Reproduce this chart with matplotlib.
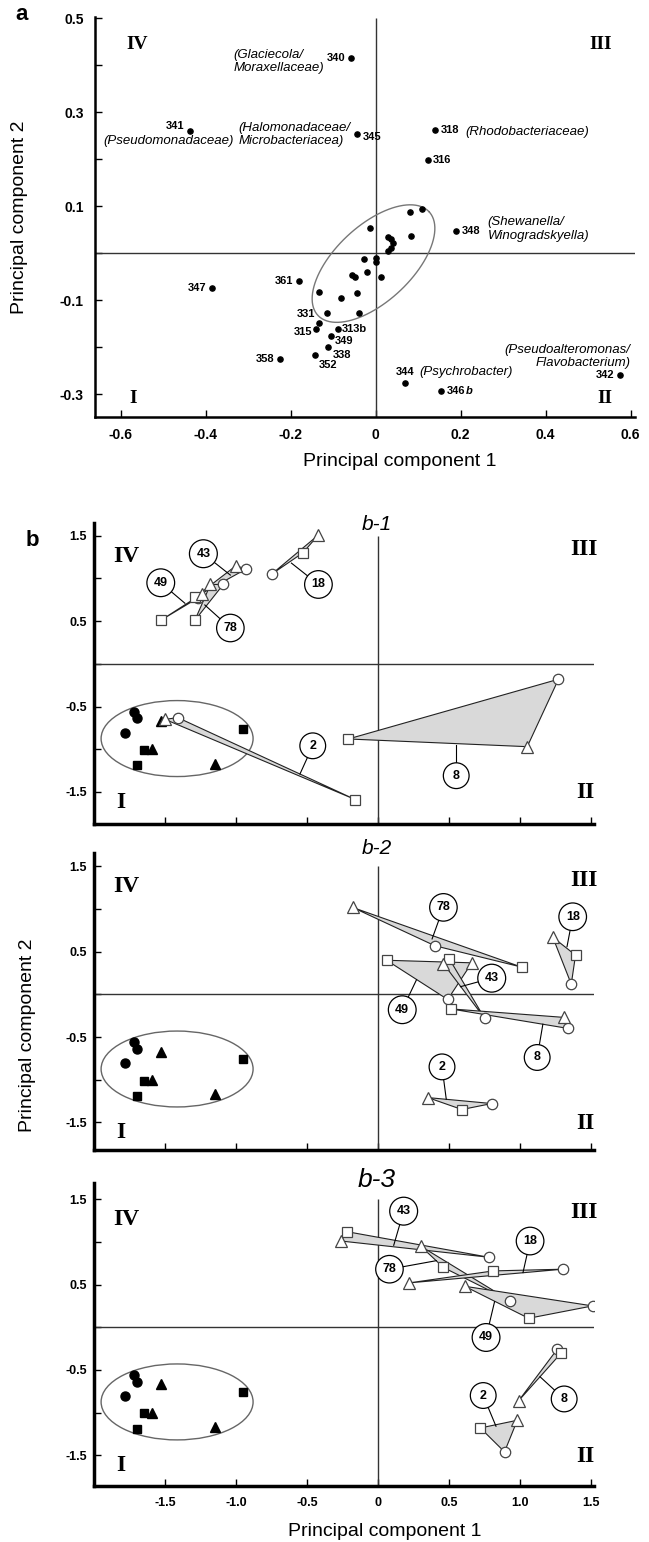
import numpy as np
import matplotlib
matplotlib.use("Agg")
import matplotlib.pyplot as plt
from matplotlib.patches import Polygon, Ellipse

plt.rcParams['font.family'] = ['Liberation Sans', 'DejaVu Sans']

# ---------------- panel a : isolates on PC1 / PC2 ----------------
a_ids = ['340', '341', '345', '318', '316', '348', '361', '347', '331', '315',
         '313b', '349', '338', '352', '358', '344', '342', '346']
a_x = [-0.058, -0.437, -0.043, 0.139, 0.124, 0.190, -0.181, -0.386, -0.133, -0.140,
       -0.089, -0.105, -0.113, -0.143, -0.224, 0.069, 0.574, 0.154]
a_y = [0.415, 0.261, 0.253, 0.262, 0.199, 0.047, -0.059, -0.073, -0.148, -0.161,
       -0.161, -0.176, -0.199, -0.217, -0.226, -0.277, -0.260, -0.293]

# unlabelled isolates inside the ellipse
a_cl_x = [0.080, 0.108, -0.013, 0.083, 0.030, 0.037, 0.041, 0.036, 0.028, -0.028, 0.0,
          0.0, -0.020, -0.055, -0.049, 0.012, -0.133, -0.081, -0.043, -0.114, -0.038]
a_cl_y = [0.088, 0.095, 0.053, 0.037, 0.035, 0.030, 0.022, 0.012, 0.004, -0.013, -0.011,
          -0.019, -0.039, -0.047, -0.050, -0.050, -0.083, -0.095, -0.085, -0.127, -0.128]

a_taxa = ['(Glaciecola/\nMoraxellaceae)', '(Pseudomonadaceae)',
          '(Halomonadaceae/\nMicrobacteriacea)', '(Rhodobacteriaceae)',
          '(Shewanella/\nWinogradskyella)', '(Psychrobacter)',
          '(Pseudoalteromonas/\nFlavobacterium)']

# ---------------- panel b : groups (circle / square / triangle) ----------------
b1_lab = ['43', '49', '78', '18', '2', '8']
b1_cx = [-0.93, -1.27, -1.09, -0.75, -1.41, 1.27]
b1_cy = [1.11, 0.77, 0.93, 1.05, -0.63, -0.18]
b1_sx = [-1.29, -1.53, -1.29, -0.53, -0.16, -0.21]
b1_sy = [0.78, 0.51, 0.51, 1.30, -1.59, -0.88]
b1_tx = [-1.00, -1.24, -1.18, -0.42, -1.50, 1.05]
b1_ty = [1.15, 0.82, 0.93, 1.51, -0.65, -0.97]

b2_lab = ['78', '18', '49', '43', '8', '2']
b2_cx = [0.40, 1.36, 0.49, 0.75, 1.34, 0.80]
b2_cy = [0.57, 0.12, -0.06, -0.28, -0.40, -1.28]
b2_sx = [1.01, 1.39, 0.06, 0.50, 0.51, 0.59]
b2_sy = [0.32, 0.46, 0.40, 0.42, -0.17, -1.35]
b2_tx = [-0.18, 1.23, 0.66, 0.46, 1.31, 0.35]
b2_ty = [1.02, 0.67, 0.37, 0.36, -0.27, -1.21]

b3_lab = ['43', '78', '18', '49', '8', '2']
b3_cx = [0.78, 0.93, 1.30, 1.51, 1.26, 0.89]
b3_cy = [0.82, 0.31, 0.68, 0.25, -0.26, -1.46]
b3_sx = [-0.22, 0.46, 0.81, 1.06, 1.29, 0.72]
b3_sy = [1.12, 0.70, 0.66, 0.105, -0.30, -1.18]
b3_tx = [-0.26, 0.30, 0.22, 0.61, 0.99, 0.98]
b3_ty = [1.01, 0.95, 0.52, 0.48, -0.86, -1.09]

# reference strains (filled symbols, same in every sub-panel)
ref_cx = [-1.72, -1.70, -1.78]
ref_cy = [-0.56, -0.64, -0.81]
ref_tx = [-1.53, -1.59, -1.15]
ref_ty = [-0.67, -1.00, -1.17]
ref_sx = [-1.65, -1.70, -0.95]
ref_sy = [-1.01, -1.19, -0.76]

# label bubble positions and where their leader lines touch the group
b1_lpos = [(-1.23, 1.29), (-1.53, 0.95), (-1.04, 0.42), (-0.42, 0.93), (-0.46, -0.96), (0.55, -1.31)]
b1_anc = [(-1.04, 1.04), (-1.36, 0.71), (-1.22, 0.69), (-0.61, 1.18), (-0.55, -1.29), (0.55, -0.95)]
b2_lpos = [(0.46, 1.02), (1.37, 0.91), (0.17, -0.18), (0.80, 0.19), (1.12, -0.74), (0.45, -0.85)]
b2_anc = [(0.38, 0.65), (1.33, 0.56), (0.27, 0.17), (0.58, 0.09), (1.16, -0.35), (0.48, -1.23)]
b3_lpos = [(0.18, 1.36), (0.08, 0.68), (1.07, 1.01), (0.76, -0.12), (1.31, -0.84), (0.74, -0.80)]
b3_anc = [(0.11, 0.96), (0.41, 0.78), (1.02, 0.64), (0.82, 0.30), (1.14, -0.58), (0.83, -1.16)]

W, H = 649, 1542
fig = plt.figure(figsize=(W / 100, H / 100), dpi=100)


def px_axes(left, top, right, bottom):
    return fig.add_axes([left / W, 1 - bottom / H, (right - left) / W, (bottom - top) / H])


def roman(ax, txt, x, y, size):
    ax.text(x, y, txt, family='Liberation Serif', weight='bold', fontsize=size,
            ha='center', va='center')


# ================= panel a =================
ax = px_axes(95, 17, 635, 416.7)
ax.set_xlim(-0.66, 0.61)
ax.set_ylim(-0.348, 0.503)
for s in ['top', 'right']:
    ax.spines[s].set_visible(False)
for s in ['left', 'bottom']:
    ax.spines[s].set_linewidth(1.8)
ax.axhline(0, color='#333333', lw=1)
ax.vlines(0, -0.348, 0.5, color='#333333', lw=1)
ax.set_xticks(np.arange(-0.6, 0.61, 0.2))
ax.set_xticklabels(['-0.6', '-0.4', '-0.2', '0', '0.2', '0.4', '0.6'])
ax.set_yticks([0.5, 0.3, 0.1, -0.1, -0.3])
ax.set_yticklabels(['0.5', '0.3', '0.1', '-0.1', '-0.3'])
ax.set_yticks([0.4, 0.2, 0.0, -0.2], minor=True)
ax.tick_params(direction='in', length=5, width=1, labelsize=10, pad=8)
ax.tick_params(which='minor', direction='in', length=5, width=1)
for t in ax.get_xticklabels() + ax.get_yticklabels():
    t.set_fontweight('bold')

ax.scatter(a_cl_x, a_cl_y, s=14, color='black', zorder=3)
ax.scatter(a_x, a_y, s=14, color='black', zorder=3)

# ellipse round the main group (drawn in pixel space, angled)
t = np.linspace(0, 2 * np.pi, 200)
ea, eb, th = 76, 38, np.deg2rad(43)
ex = -0.005 + (ea * np.cos(t) * np.cos(th) - eb * np.sin(t) * np.sin(th)) / 425
ey = -0.022 + (ea * np.cos(t) * np.sin(th) + eb * np.sin(t) * np.cos(th)) / 470
ax.plot(ex, ey, color='#777777', lw=1)

a_off = {'340': (-4, 0, 'right'), '341': (-4, 3, 'right'), '345': (4, -2, 'left'),
         '318': (4, 0, 'left'), '316': (3, 0, 'left'), '348': (4, 0, 'left'),
         '361': (-4, 0, 'right'), '347': (-4, 0, 'right'), '331': (-3, 6, 'right'),
         '315': (-3, -2, 'right'), '313b': (3, 0, 'left'), '349': (3, -4, 'left'),
         '338': (4, -6, 'left'), '352': (3, -7, 'left'), '358': (-4, 0, 'right'),
         '344': (0, 8, 'center'), '342': (-4, 0, 'right'), '346': (4, 0, 'left')}
for lab, x, y in zip(a_ids, a_x, a_y):
    dx, dy, ha = a_off[lab]
    ax.annotate(lab, (x, y), xytext=(dx, dy), textcoords='offset points', ha=ha,
                va='center', fontsize=8, fontweight='bold')
    if lab == '346':
        ax.annotate('b', (x, y), xytext=(dx + 14, dy), textcoords='offset points',
                    ha='left', va='center', fontsize=8, fontweight='bold', style='italic')

tax_pos = [(-0.335, 0.408, 'left'), (-0.333, 0.238, 'right'), (-0.322, 0.2525, 'left'),
           (0.21, 0.259, 'left'), (0.263, 0.052, 'left'), (0.104, -0.253, 'left'),
           (0.60, -0.2195, 'right')]
for txt, (x, y, ha) in zip(a_taxa, tax_pos):
    ax.text(x, y, txt, ha=ha, va='center', multialignment=ha, fontsize=9.5,
            style='italic', linespacing=1.15)

roman(ax, 'IV', -0.56, 0.445, 14)
roman(ax, 'III', 0.53, 0.445, 14)
roman(ax, 'I', -0.57, -0.31, 14)
roman(ax, 'II', 0.54, -0.31, 14)

fig.text(22 / W, 1 - 15 / H, 'a', fontsize=16, fontweight='bold', ha='center', va='center')
fig.text(20 / W, 1 - 217 / H, 'Principal component 2', rotation=90, fontsize=14,
         ha='center', va='center')
fig.text(400 / W, 1 - 462 / H, 'Principal component 1', fontsize=14, ha='center', va='center')


# ================= panel b =================
def draw_b(ax, ylim, lab, cx, cy, sx, sy, tx, ty, lpos, anc, show_x):
    ax.set_xlim(-2.0, 1.52)
    ax.set_ylim(*ylim)
    for s in ['top', 'right']:
        ax.spines[s].set_visible(False)
    for s in ['left', 'bottom']:
        ax.spines[s].set_linewidth(2.5)
    ax.axhline(0, color='#333333', lw=1)
    ax.vlines(0, ylim[0], 1.5, color='#333333', lw=1)
    ax.set_xticks(np.arange(-1.5, 1.51, 0.5))
    ax.set_yticks([1.5, 0.5, -0.5, -1.5])
    ax.set_yticklabels(['1.5', '0.5', '-0.5', '-1.5'])
    ax.set_yticks([1.0, 0.0, -1.0], minor=True)
    ax.tick_params(direction='in', length=5, width=1, labelsize=9, pad=5)
    ax.tick_params(which='minor', direction='in', length=5, width=1)
    if show_x:
        ax.set_xticklabels(['-1.5', '-1.0', '-0.5', '0', '0.5', '1.0', '1.5'])
        ax.tick_params(axis='x', pad=8)
    else:
        ax.set_xticklabels([])
    for t in ax.get_xticklabels() + ax.get_yticklabels():
        t.set_fontweight('bold')

    # reference strains
    ax.add_patch(Ellipse((-1.415, -0.875), 1.07, 0.89, fc='none', ec='#666666', lw=1))
    ax.plot(ref_cx, ref_cy, 'o', color='black', ms=6.5, ls='none', zorder=4)
    ax.plot(ref_tx, ref_ty, '^', color='black', ms=6.5, ls='none', zorder=4)
    ax.plot(ref_sx, ref_sy, 's', color='black', ms=6, ls='none', zorder=4)

    for i in range(len(lab)):
        pts = [(cx[i], cy[i]), (sx[i], sy[i]), (tx[i], ty[i])]
        ax.add_patch(Polygon(pts, closed=True, fc='#d9d9d9', ec='#222222', lw=0.8, zorder=2))
        ax.plot([lpos[i][0], anc[i][0]], [lpos[i][1], anc[i][1]], color='black', lw=0.8, zorder=3)
        ax.text(lpos[i][0], lpos[i][1], lab[i], ha='center', va='center', fontsize=9,
                fontweight='bold', zorder=6,
                bbox=dict(boxstyle='circle,pad=0.55', fc='white', ec='black', lw=0.9))
    mk = dict(mfc='white', mec='#444444', mew=0.9, ls='none', zorder=5)
    ax.plot(cx, cy, 'o', ms=7.5, **mk)
    ax.plot(sx, sy, 's', ms=7, **mk)
    ax.plot(tx, ty, '^', ms=8, **mk)

    roman(ax, 'IV', -1.77, 1.26, 17)
    roman(ax, 'III', 1.45, 1.34, 17)
    roman(ax, 'I', -1.81, -1.62, 17)
    roman(ax, 'II', 1.46, -1.51, 17)


ax1 = px_axes(94, 523, 594, 823.5)
draw_b(ax1, (-1.87, 1.65), b1_lab, b1_cx, b1_cy, b1_sx, b1_sy, b1_tx, b1_ty, b1_lpos, b1_anc, False)
ax2 = px_axes(94, 852.8, 594, 1149.6)
draw_b(ax2, (-1.82, 1.66), b2_lab, b2_cx, b2_cy, b2_sx, b2_sy, b2_tx, b2_ty, b2_lpos, b2_anc, False)
ax3 = px_axes(94, 1183, 594, 1486)
draw_b(ax3, (-1.86, 1.69), b3_lab, b3_cx, b3_cy, b3_sx, b3_sy, b3_tx, b3_ty, b3_lpos, b3_anc, True)

fig.text(377 / W, 1 - 525 / H, 'b-1', fontsize=15, style='italic', ha='center', va='center')
fig.text(377 / W, 1 - 848 / H, 'b-2', fontsize=15, style='italic', ha='center', va='center')
fig.text(377 / W, 1 - 1180 / H, 'b-3', fontsize=19, style='italic', ha='center', va='center')

fig.text(32 / W, 1 - 541 / H, 'b', fontsize=16, fontweight='bold', ha='center', va='center')
fig.text(28 / W, 1 - 1035 / H, 'Principal component 2', rotation=90, fontsize=14,
         ha='center', va='center')
fig.text(385 / W, 1 - 1532 / H, 'Principal component 1', fontsize=14, ha='center', va='center')

fig.savefig('out.png', dpi=100)
